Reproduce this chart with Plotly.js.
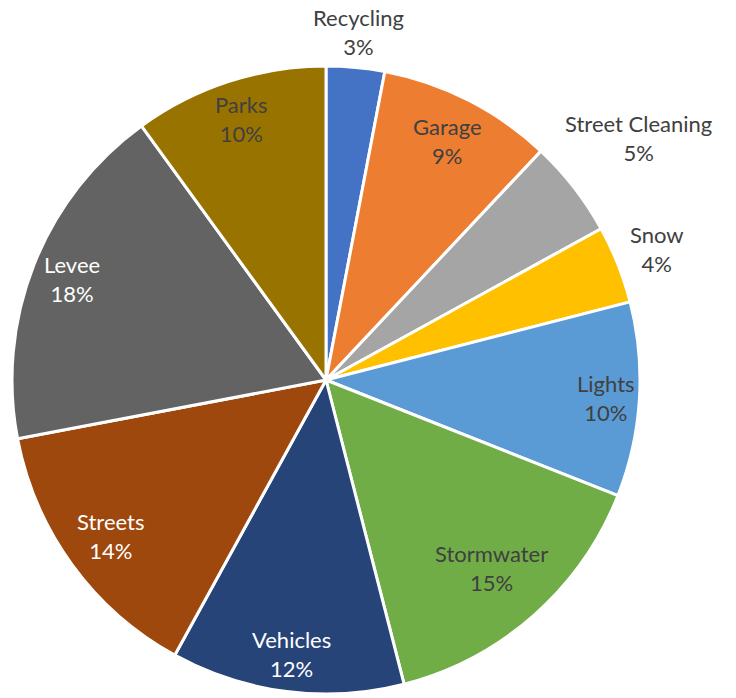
<!DOCTYPE html>
<html>
<head>
<meta charset="utf-8">
<script src="https://cdn.plot.ly/plotly-3.0.1.min.js"></script>
<style>html,body{margin:0;padding:0;background:#fff;}#chart{width:736px;height:698px;}</style>
</head>
<body>
<div id="chart"></div>
<script>
const categories = ["Recycling","Garage","Street Cleaning","Snow","Lights","Stormwater","Vehicles","Streets","Levee","Parks"];
const values = [3,9,5,4,10,15,12,14,18,10];
const colors = ["#4472C4","#ED7D31","#A5A5A5","#FFC000","#5B9BD5","#70AD47","#264478","#9E480E","#636363","#997300"];
const outsideLabels = ["Recycling","Street Cleaning","Snow"];
const whiteLabels = ["Vehicles","Streets","Levee"];

const W = 736, H = 698;
const FONT = "Lato";
const FS = 22;
const dom = {x: [12/W, 640/W], y: [4/H, 632/H]};

const trace = {
  type: "pie",
  labels: categories,
  values: values,
  sort: false,
  direction: "clockwise",
  rotation: 0,
  marker: {colors: colors, line: {color: "#FFFFFF", width: 3}},
  textinfo: "none",
  domain: dom,
  hoverinfo: "label+percent",
  showlegend: false
};

// label placement computed from the data (slice mid-angles)
const canvas = document.createElement("canvas");
const ctx = canvas.getContext("2d");
ctx.font = FS + "px " + FONT;
const total = values.reduce((a, b) => a + b, 0);
const cx = (dom.x[0] + dom.x[1]) / 2 * W;
const cyPix = H - (dom.y[0] + dom.y[1]) / 2 * H;
const R = Math.min((dom.x[1] - dom.x[0]) * W, (dom.y[1] - dom.y[0]) * H) / 2;
let cum = 0;
const annotations = categories.map((name, i) => {
  const frac = values[i] / total;
  const mid = (cum + frac / 2) * 2 * Math.PI;
  cum += frac;
  const pct = Math.round(frac * 100) + "%";
  const w = Math.max(ctx.measureText(name).width, ctx.measureText(pct).width);
  const s = Math.sin(mid), c = Math.cos(mid);
  const outside = outsideLabels.includes(name);
  const halfH = outside ? 22 : 30;
  const proj = Math.abs(s) * w / 2 + Math.abs(c) * halfH;
  const d = outside ? 1.03 * R + proj : 0.99 * R - proj;
  const px = cx + d * s;
  const py = cyPix - d * c;
  return {
    x: px / W, y: 1 - py / H, xref: "paper", yref: "paper",
    xanchor: "center", yanchor: "middle", showarrow: false,
    text: name + "<br>" + pct,
    font: {family: FONT, size: FS, color: whiteLabels.includes(name) ? "#FFFFFF" : "#404040"}
  };
});

Plotly.newPlot("chart", [trace], {
  width: W, height: H,
  margin: {l: 0, r: 0, t: 0, b: 0},
  paper_bgcolor: "#FFFFFF",
  showlegend: false,
  annotations: annotations
}, {displayModeBar: false});
</script>
</body>
</html>
